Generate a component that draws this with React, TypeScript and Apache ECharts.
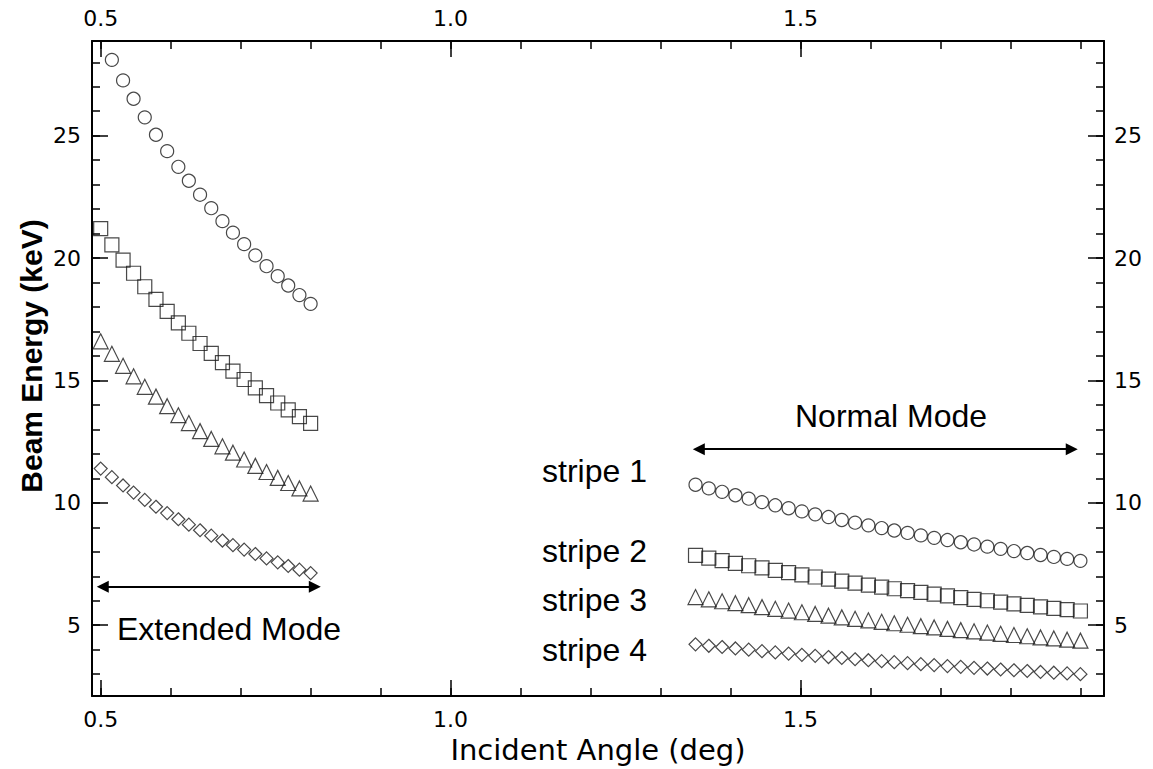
import React, { useEffect, useRef } from "react";
import * as echarts from "echarts";

// ---- axis ranges & ticks ----
const X_MIN = 0.4876;
const X_MAX = 1.9337;
const Y_MIN = 2.104;
const Y_MAX = 28.87;
const X_MAJOR = [0.5, 1.0, 1.5];
const X_MINOR = [0.5, 0.6, 0.7, 0.8, 0.9, 1.0, 1.1, 1.2, 1.3, 1.4, 1.5, 1.6, 1.7, 1.8, 1.9];
const Y_MAJOR = [5, 10, 15, 20, 25];
const Y_MINOR = [3, 4, 5, 6, 7, 8, 9, 10, 11, 12, 13, 14, 15, 16, 17, 18, 19, 20, 21, 22, 23, 24, 25, 26, 27, 28];

// ---- data: Extended Mode (left) ----
const xLeft = [0.5, 0.516, 0.532, 0.547, 0.563, 0.579, 0.595, 0.611, 0.626, 0.642, 0.658, 0.674, 0.689, 0.705, 0.721, 0.737, 0.753, 0.768, 0.784, 0.8];
// stripe 1 starts at the second angle (first point is above the plot)
const stripe1Left = [28.10, 27.26, 26.51, 25.75, 25.04, 24.37, 23.73, 23.16, 22.59, 22.04, 21.51, 21.04, 20.57, 20.11, 19.67, 19.26, 18.88, 18.49, 18.13];
const stripe2Left = [21.20, 20.54, 19.92, 19.38, 18.83, 18.31, 17.82, 17.35, 16.93, 16.51, 16.11, 15.73, 15.38, 15.04, 14.70, 14.38, 14.08, 13.80, 13.52, 13.25];
const stripe3Left = [16.60, 16.09, 15.60, 15.17, 14.74, 14.34, 13.95, 13.58, 13.26, 12.93, 12.61, 12.31, 12.05, 11.77, 11.51, 11.26, 11.02, 10.81, 10.59, 10.38];
const stripe4Left = [11.40, 11.05, 10.71, 10.42, 10.12, 9.84, 9.58, 9.33, 9.11, 8.88, 8.66, 8.46, 8.27, 8.09, 7.91, 7.73, 7.57, 7.42, 7.27, 7.13];

// ---- data: Normal Mode (right) ----
const xRight = [1.35, 1.369, 1.388, 1.407, 1.426, 1.445, 1.464, 1.483, 1.502, 1.521, 1.54, 1.559, 1.578, 1.597, 1.616, 1.634, 1.653, 1.672, 1.691, 1.71, 1.729, 1.748, 1.767, 1.786, 1.805, 1.824, 1.843, 1.862, 1.881, 1.9];
const stripe1Right = [10.74, 10.59, 10.45, 10.31, 10.17, 10.03, 9.90, 9.78, 9.65, 9.53, 9.42, 9.30, 9.19, 9.08, 8.97, 8.87, 8.77, 8.67, 8.57, 8.48, 8.39, 8.30, 8.21, 8.12, 8.03, 7.95, 7.87, 7.79, 7.71, 7.63];
const stripe2Right = [7.85, 7.74, 7.64, 7.53, 7.43, 7.34, 7.24, 7.15, 7.06, 6.97, 6.88, 6.80, 6.72, 6.64, 6.56, 6.49, 6.41, 6.34, 6.27, 6.20, 6.13, 6.06, 6.00, 5.94, 5.87, 5.81, 5.75, 5.69, 5.64, 5.58];
const stripe3Right = [6.15, 6.06, 5.98, 5.90, 5.82, 5.74, 5.67, 5.60, 5.53, 5.46, 5.39, 5.32, 5.26, 5.20, 5.14, 5.08, 5.02, 4.96, 4.91, 4.85, 4.80, 4.75, 4.70, 4.65, 4.60, 4.55, 4.50, 4.46, 4.41, 4.37];
const stripe4Right = [4.22, 4.16, 4.11, 4.05, 4.00, 3.94, 3.89, 3.84, 3.79, 3.75, 3.70, 3.66, 3.61, 3.57, 3.53, 3.49, 3.45, 3.41, 3.37, 3.33, 3.30, 3.26, 3.23, 3.19, 3.16, 3.13, 3.09, 3.06, 3.03, 3.00];

// ---- annotation arrows (data coordinates) ----
const extendedArrowX = [0.503, 0.806];
const extendedArrowY = 6.57;
const normalArrowX = [1.3547, 1.8876];
const normalArrowY = 12.19;

const stripeNames = ["stripe 1", "stripe 2", "stripe 3", "stripe 4"];
const stripeSymbols = ["circle", "rect", "triangle", "diamond"];
const stripeSizes = [13, 14, 15, 13];

const TICK_FONT = "DejaVu Sans";
const TEXT_FONT = "Liberation Sans, Arial, sans-serif";

function pairs(xs: number[], ys: number[], offset: number) {
  return ys.map((y, i) => [xs[i + offset], y]);
}

export default function App() {
  const ref = useRef<HTMLDivElement>(null);
  useEffect(() => {
    if (!ref.current) return;
    const chart = echarts.init(ref.current, undefined, { renderer: "svg" });

    const leftData = [
      pairs(xLeft, stripe1Left, 1),
      pairs(xLeft, stripe2Left, 0),
      pairs(xLeft, stripe3Left, 0),
      pairs(xLeft, stripe4Left, 0),
    ];
    const rightData = [
      pairs(xRight, stripe1Right, 0),
      pairs(xRight, stripe2Right, 0),
      pairs(xRight, stripe3Right, 0),
      pairs(xRight, stripe4Right, 0),
    ];

    const axisLineStyle = { show: true, onZero: false, lineStyle: { color: "#000", width: 2 } };
    const tickLabel = { fontFamily: TICK_FONT, fontSize: 22, color: "#000" };

    const xMajor = (position: string, withName: boolean) => ({
      type: "value",
      position,
      min: X_MIN,
      max: X_MAX,
      axisLine: axisLineStyle,
      axisTick: { show: true, inside: true, length: 16, customValues: X_MAJOR, lineStyle: { color: "#000", width: 1.5 } },
      axisLabel: { show: true, customValues: X_MAJOR, margin: 12, formatter: (v: number) => v.toFixed(1), ...tickLabel },
      splitLine: { show: false },
      ...(withName
        ? {
            name: "Incident Angle (deg)",
            nameLocation: "middle",
            nameGap: 31,
            nameTextStyle: { fontFamily: TICK_FONT, fontSize: 29, color: "#000" },
          }
        : {}),
    });
    const xMinor = (position: string) => ({
      type: "value",
      position,
      min: X_MIN,
      max: X_MAX,
      axisLine: { show: false, onZero: false },
      axisTick: { show: true, inside: true, length: 8, customValues: X_MINOR, lineStyle: { color: "#000", width: 1.5 } },
      axisLabel: { show: false },
      splitLine: { show: false },
    });
    const yMajor = (position: string) => ({
      type: "value",
      position,
      min: Y_MIN,
      max: Y_MAX,
      axisLine: axisLineStyle,
      axisTick: { show: true, inside: true, length: 16, customValues: Y_MAJOR, lineStyle: { color: "#000", width: 1.5 } },
      axisLabel: { show: true, customValues: Y_MAJOR, margin: position === "left" ? 11 : 10, formatter: (v: number) => String(v), ...tickLabel },
      splitLine: { show: false },
    });
    const yMinor = (position: string) => ({
      type: "value",
      position,
      min: Y_MIN,
      max: Y_MAX,
      axisLine: { show: false, onZero: false },
      axisTick: { show: true, inside: true, length: 8, customValues: Y_MINOR, lineStyle: { color: "#000", width: 1.5 } },
      axisLabel: { show: false },
      splitLine: { show: false },
    });

    const series: any[] = stripeNames.map((name, i) => ({
      name,
      type: "scatter",
      xAxisIndex: 0,
      yAxisIndex: 0,
      symbol: stripeSymbols[i],
      symbolSize: stripeSizes[i],
      itemStyle: { color: "rgba(0,0,0,0)", borderColor: "#1a1a1a", borderWidth: 1.2 },
      data: [...leftData[i], ...rightData[i]],
      silent: true,
    }));

    series.push({
      type: "scatter",
      xAxisIndex: 0,
      yAxisIndex: 0,
      data: [],
      silent: true,
      markLine: {
        silent: true,
        symbol: ["triangle", "triangle"],
        symbolSize: 12,
        label: { show: false },
        lineStyle: { color: "#000", width: 2, type: "solid" },
        data: [
          [
            { coord: [extendedArrowX[0], extendedArrowY] },
            { coord: [extendedArrowX[1], extendedArrowY] },
          ],
          [
            { coord: [normalArrowX[0], normalArrowY] },
            { coord: [normalArrowX[1], normalArrowY] },
          ],
        ],
      },
    });

    const annoStyle = (text: string, align: string) => ({
      text,
      font: `32px ${TEXT_FONT}`,
      fill: "#000",
      align,
      verticalAlign: "middle",
    });

    chart.setOption({
      animation: false,
      backgroundColor: "#fff",
      grid: { left: 92, top: 41, width: 1012, height: 659 },
      xAxis: [xMajor("bottom", true), xMinor("bottom"), xMajor("top", false), xMinor("top")],
      yAxis: [yMajor("left"), yMinor("left"), yMajor("right"), yMinor("right")],
      series,
      graphic: [
        {
          type: "text",
          x: 31,
          y: 356,
          rotation: Math.PI / 2,
          style: {
            text: "Beam Energy (keV)",
            font: `bold 30px ${TEXT_FONT}`,
            fill: "#000",
            align: "center",
            verticalAlign: "middle",
          },
        },
        { type: "text", x: 117, y: 629, style: annoStyle("Extended Mode", "left") },
        { type: "text", x: 891, y: 416, style: annoStyle("Normal Mode", "center") },
        { type: "text", x: 542, y: 471, style: annoStyle(stripeNames[0], "left") },
        { type: "text", x: 542, y: 551, style: annoStyle(stripeNames[1], "left") },
        { type: "text", x: 542, y: 600, style: annoStyle(stripeNames[2], "left") },
        { type: "text", x: 542, y: 650, style: annoStyle(stripeNames[3], "left") },
      ],
    });

    return () => chart.dispose();
  }, []);

  return (
    <div
      ref={ref}
      style={{ position: "absolute", left: 0, top: 0, width: 1153, height: 769, background: "#fff" }}
    />
  );
}
